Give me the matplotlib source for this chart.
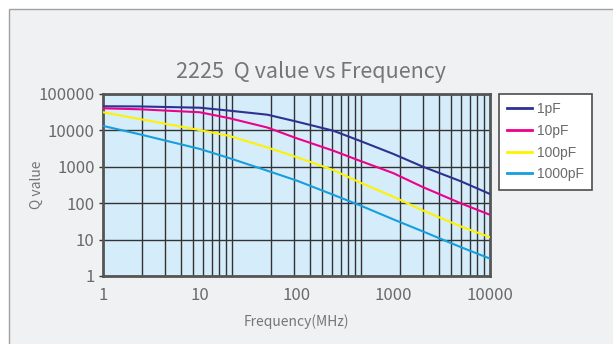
import matplotlib
matplotlib.use("Agg")
import matplotlib.pyplot as plt
from matplotlib.patches import Rectangle
from matplotlib.ticker import NullFormatter, NullLocator

# values
freq = [1, 2.4, 10, 20, 50, 100, 240, 450, 1000, 2000, 5000, 10000]
q_1pF = [46000, 45500, 42000, 35000, 27000, 17500, 9800, 5200, 2260, 1020, 400, 179]
q_10pF = [40500, 38000, 31500, 21800, 12000, 6100, 2770, 1470, 670, 281, 99, 48]
q_100pF = [31500, 20500, 10200, 7100, 3400, 1850, 815, 373, 151, 64, 23, 11.6]
q_1000pF = [13300, 7800, 3100, 1750, 780, 420, 170, 88, 36, 17, 6.2, 3.0]

series = ["1pF", "10pF", "100pF", "1000pF"]
colors = ["#2e3192", "#ec008c", "#fff200", "#159fdc"]

x_ticks = [1, 10, 100, 1000, 10000]
y_ticks = [1, 10, 100, 1000, 10000, 100000]

# the vertical grid of the original is a 3-decade log grid stretched over 4 decades
grid_base = [m * 10 ** d for d in range(3) for m in range(1, 10)] + [1000]
grid_x = [v ** (4 / 3) for v in grid_base][1:-1]

font = "Noto Sans CJK SC"
txt = "#767676"

fig = plt.figure(figsize=(6.13, 3.44), dpi=100, facecolor="white")
fig.patches.append(Rectangle((8.5 / 613, -0.05), 1.0, 1 - 9 / 344 + 0.05,
                             transform=fig.transFigure, facecolor="#f0f1f3",
                             edgecolor="#a0a0a0", linewidth=1.0, zorder=-10))

ax = fig.add_axes([103 / 613, 1 - 276 / 344, 387 / 613, 182 / 344])
ax.set_facecolor("#d5ecfa")

for q, name, c in zip([q_1pF, q_10pF, q_100pF, q_1000pF], series, colors):
    ax.plot(freq, q, color=c, lw=1.5, label=name, zorder=3)

ax.set_xscale("log")
ax.set_yscale("log")
ax.set_xlim(1, 10000)
ax.set_ylim(1, 100000)

ax.set_xticks(x_ticks)
ax.set_xticklabels([str(v) for v in x_ticks])
ax.set_xticks(grid_x, minor=True)
ax.xaxis.set_minor_formatter(NullFormatter())
ax.set_yticks(y_ticks)
ax.set_yticklabels([str(v) for v in y_ticks])
ax.yaxis.set_minor_locator(NullLocator())

ax.grid(which="minor", axis="x", color="#333333", lw=1.0, zorder=1)
ax.grid(which="major", axis="y", color="#333333", lw=1.0, zorder=1)
ax.set_axisbelow(True)

ax.tick_params(axis="x", which="both", length=0, pad=8)
ax.tick_params(axis="y", which="major", length=3, width=1, color="#333333", pad=3)
for lab in ax.get_xticklabels() + ax.get_yticklabels():
    lab.set_fontfamily(font)
    lab.set_fontsize(12)
    lab.set_color("#6a6a6a")

for s in ax.spines.values():
    s.set_color("#555555")
    s.set_linewidth(2)

ax.set_xlabel("Frequency(MHz)", family=font, fontsize=10, color=txt, labelpad=7)
ax.set_ylabel("Q value", family=font, fontsize=10, color=txt)
ax.yaxis.set_label_coords(-0.152, 0.5)
fig.text(311 / 613, 1 - 72 / 344, "2225  Q value vs Frequency", family=font,
         fontsize=15.5, color=txt, ha="center", va="center")

leg = ax.legend(loc="upper left", bbox_to_anchor=(499 / 613, 1 - 94 / 344),
                bbox_transform=fig.transFigure, borderaxespad=0,
                frameon=True, fancybox=False, handlelength=1.8,
                handletextpad=0.3, labelspacing=0.55, borderpad=0.6,
                prop={"family": "Liberation Sans", "size": 10})
leg.get_frame().set_edgecolor("#4d4d4d")
leg.get_frame().set_linewidth(1.2)
leg.get_frame().set_facecolor("white")
leg.get_frame().set_alpha(1)
for t in leg.get_texts():
    t.set_color("#6a6a6a")
for h in leg.get_lines():
    h.set_linewidth(2)

fig.savefig("out.png", dpi=100, facecolor=fig.get_facecolor())
